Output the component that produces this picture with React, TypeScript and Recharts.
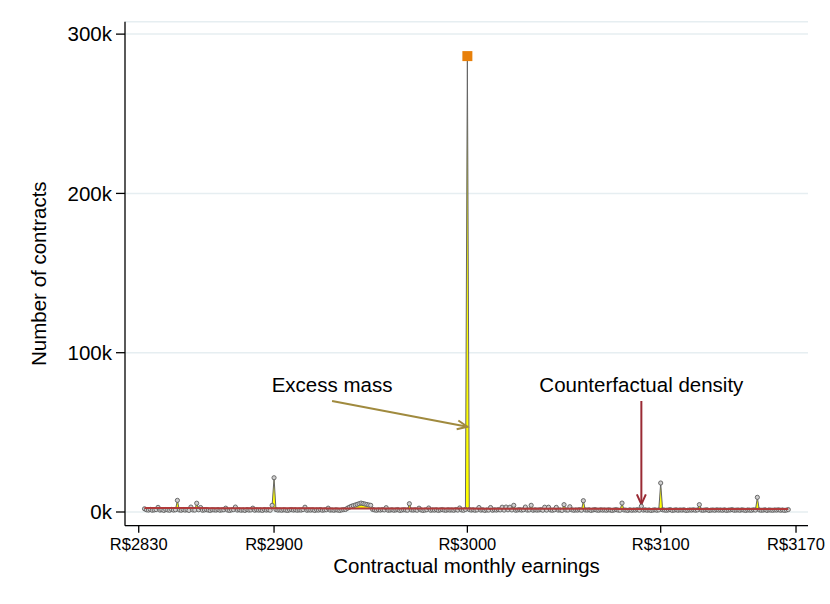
import React from "react";
import {
  ComposedChart,
  Line,
  Area,
  XAxis,
  YAxis,
  CartesianGrid,
  ReferenceLine,
  ReferenceDot,
  Label,
} from "recharts";

const FONT = "'Liberation Sans', Arial, Helvetica, sans-serif";

// contracts per R$1 of contractual earnings, in thousands
const firstEarning = 2833;

const counts2833to2899 = [
  2.0, 1.4, 1.2, 1.6, 1.1, 1.3, 1.5,
  2.9, 1.2, 1.4, 1.0, 1.5, 1.3, 1.1, 1.6, 1.2, 1.4,
  7.3, 1.3, 1.1, 1.5, 1.2, 1.4, 1.0, 3.1, 1.3, 1.2,
  5.5, 1.4, 2.8, 1.1, 1.3, 1.5, 1.2, 1.0, 1.4, 1.3,
  1.2, 1.5, 1.1, 1.3, 1.4, 2.4, 1.2, 1.0, 1.3, 1.5,
  3.1, 1.2, 1.4, 1.1, 1.3, 1.0, 1.5, 1.2, 1.3, 2.4,
  1.1, 1.4, 1.2, 1.3, 1.0, 1.5, 1.2, 1.4, 1.1, 4.2,
];

const counts2900to2999 = [
  21.5, 1.5, 1.2, 1.3, 1.1, 1.4, 1.2, 1.0, 1.3, 1.5,
  1.2, 1.4, 1.1, 1.3, 1.2, 1.5, 3.0, 1.1, 1.3, 1.2,
  1.4, 1.0, 1.3, 1.2, 1.5, 1.1, 1.3, 1.4, 2.4, 1.2,
  1.3, 1.1, 1.4, 1.2, 1.0, 1.3, 1.5, 1.6, 2.4, 3.0,
  3.6, 4.0, 4.4, 4.8, 5.2, 5.6, 5.3, 5.0, 4.7, 4.4,
  4.2, 1.6, 1.3, 1.1, 1.4, 1.2, 1.5, 1.3, 2.7, 1.1,
  1.2, 1.4, 1.1, 1.3, 1.5, 1.0, 1.2, 1.4, 1.3, 1.1,
  5.2, 1.3, 1.2, 1.4, 1.1, 2.4, 1.3, 1.0, 1.2, 1.4,
  2.5, 1.1, 1.3, 1.2, 1.4, 1.0, 1.3, 1.5, 1.2, 1.1,
  1.4, 1.2, 1.3, 1.1, 1.5, 1.2, 2.5, 1.3, 1.1, 1.6,
];

const counts3000to3099 = [
  286.2, 1.5, 1.2, 1.4, 1.1, 1.3, 2.8, 1.2, 1.4, 1.0,
  1.3, 1.2, 2.8, 1.1, 1.4, 1.2, 1.5, 1.3, 3.0, 1.2,
  3.1, 1.4, 3.0, 1.3, 4.2, 1.1, 1.3, 1.5, 1.2, 1.4,
  3.1, 1.2, 1.3, 4.2, 1.1, 1.4, 1.2, 1.3, 1.5, 1.1,
  3.0, 1.2, 3.0, 1.3, 1.1, 1.4, 2.9, 1.2, 1.3, 1.0,
  4.6, 1.3, 1.2, 3.3, 1.4, 1.1, 1.3, 1.2, 1.5, 1.1,
  7.1, 1.3, 1.2, 1.4, 1.0, 1.3, 1.5, 1.2, 1.1, 1.4,
  1.2, 1.3, 1.1, 1.4, 1.2, 1.0, 1.3, 1.5, 1.2, 1.1,
  5.6, 1.3, 1.2, 1.0, 1.4, 1.1, 1.3, 1.2, 1.5, 1.1,
  3.6, 1.2, 1.4, 1.1, 1.3, 1.0, 1.2, 1.4, 1.1, 1.3,
];

const counts3100to3166 = [
  18.2, 1.4, 1.2, 1.1, 1.3, 1.5, 1.0, 1.2, 1.4, 1.1,
  1.3, 1.2, 1.4, 1.0, 1.1, 1.3, 1.2, 1.4, 1.1, 1.3,
  4.6, 1.2, 1.1, 1.3, 1.4, 1.0, 1.2, 1.3, 1.1, 1.4,
  1.2, 1.3, 1.1, 1.4, 1.0, 1.2, 1.3, 1.5, 1.1, 1.2,
  1.3, 1.1, 1.4, 1.2, 1.0, 1.3, 1.2, 1.1, 1.4, 1.2,
  9.2, 1.3, 1.1, 1.2, 1.4, 1.0, 1.3, 1.2, 1.1, 1.3,
  1.2, 1.4, 1.1, 1.3, 1.0, 1.2, 1.5,
];

// counterfactual density (thousands)
const cfEarnings = [
  2833, 2840, 2850, 2860, 2870, 2880, 2890, 2900, 2910, 2920, 2930, 2940,
  2950, 2960, 2970, 2980, 2990, 3000, 3010, 3020, 3030, 3040, 3050, 3060,
  3070, 3080, 3090, 3100, 3110, 3120, 3130, 3140, 3150, 3160, 3166,
];
const cfCounts = [
  2.5, 2.48, 2.46, 2.44, 2.41, 2.39, 2.36, 2.34, 2.31, 2.29, 2.27, 2.24,
  2.22, 2.2, 2.18, 2.16, 2.14, 2.12, 2.1, 2.08, 2.06, 2.04, 2.02, 2.0,
  1.98, 1.96, 1.95, 1.93, 1.92, 1.9, 1.89, 1.88, 1.87, 1.86, 1.85,
];

const xTicks = [2830, 2900, 3000, 3100, 3170];
const yTicks = [0, 100, 200, 300];
const roundNumber = 3000;

const observed = [...counts2833to2899, ...counts2900to2999, ...counts3000to3099, ...counts3100to3166];

const cfStep = (e: number) => {
  let v = cfCounts[0];
  cfEarnings.forEach((x, i) => {
    if (x <= e) v = cfCounts[i];
  });
  return v;
};

const data = observed.map((obs, i) => {
  const earning = firstEarning + i;
  const j = cfEarnings.indexOf(earning);
  const base = cfStep(earning);
  return {
    earning,
    obs,
    cf: j >= 0 ? cfCounts[j] : undefined,
    excess: [base, Math.max(obs, base)],
  };
});

const arrow = (color: string) => (props: any) => {
  const { x1, y1, x2, y2 } = props;
  const ang = Math.atan2(y2 - y1, x2 - x1);
  const len = 11;
  const spread = 0.42;
  const ax = x2 - len * Math.cos(ang - spread);
  const ay = y2 - len * Math.sin(ang - spread);
  const bx = x2 - len * Math.cos(ang + spread);
  const by = y2 - len * Math.sin(ang + spread);
  return (
    <g>
      <line x1={x1} y1={y1} x2={x2} y2={y2} stroke={color} strokeWidth={2} />
      <polyline points={`${ax},${ay} ${x2},${y2} ${bx},${by}`} fill="none" stroke={color} strokeWidth={2} />
    </g>
  );
};

const note = (text: string) => (props: any) => (
  <text x={props.cx} y={props.cy} textAnchor="middle" fontSize={20.5} fontFamily={FONT} fill="#000">
    {text}
  </text>
);

const renderDot = (props: any) => {
  const { cx, cy, payload, index } = props;
  if (payload.earning === roundNumber) {
    return <rect key={`d-${index}`} x={cx - 5} y={cy - 5} width={10} height={10} fill="#e8800a" />;
  }
  return <circle key={`d-${index}`} cx={cx} cy={cy} r={2.1} fill="#cfcfcf" stroke="#5c5c5c" strokeWidth={0.9} />;
};

const tickStyle = { fill: "#000", fontFamily: FONT };

export default function App() {
  return (
    <div style={{ position: "absolute", left: 0, top: 0, width: 830, height: 604, background: "#fff" }}>
      <ComposedChart width={830} height={604} data={data} margin={{ top: 21.7, right: 22, bottom: 0, left: 0 }}>
        <CartesianGrid vertical={false} stroke="#e6eef1" strokeWidth={1.5} />
        <XAxis
          type="number"
          dataKey="earning"
          domain={[2822.9, 3176.2]}
          ticks={xTicks}
          tickFormatter={(v) => `R$${v}`}
          height={78.3}
          tickSize={7}
          tickMargin={5.5}
          tick={{ ...tickStyle, fontSize: 16.5 }}
          axisLine={{ stroke: "#000", strokeWidth: 1.3 }}
          tickLine={{ stroke: "#000", strokeWidth: 1.3 }}
        >
          <Label
            content={({ viewBox }: any) => (
              <text
                x={viewBox.x + viewBox.width / 2}
                y={viewBox.y + 47.3}
                textAnchor="middle"
                fontSize={20.5}
                fontFamily={FONT}
                fill="#000"
              >
                Contractual monthly earnings
              </text>
            )}
          />
        </XAxis>
        <YAxis
          type="number"
          domain={[-8.6, 307.8]}
          ticks={yTicks}
          tickFormatter={(v) => `${v}k`}
          width={125}
          tickSize={9}
          tickMargin={4}
          tick={{ ...tickStyle, fontSize: 20.5 }}
          axisLine={{ stroke: "#000", strokeWidth: 1.3 }}
          tickLine={{ stroke: "#000", strokeWidth: 1.3 }}
        >
          <Label
            content={({ viewBox }: any) => {
              const cx = 46;
              const cy = viewBox.y + viewBox.height / 2;
              return (
                <text
                  x={cx}
                  y={cy}
                  transform={`rotate(-90, ${cx}, ${cy})`}
                  textAnchor="middle"
                  fontSize={20.5}
                  fontFamily={FONT}
                  fill="#000"
                >
                  Number of contracts
                </text>
              );
            }}
          />
        </YAxis>
        <Area
          type="linear"
          dataKey="excess"
          stroke="none"
          fill="#ffff00"
          fillOpacity={1}
          activeDot={false}
          isAnimationActive={false}
        />
        <Line
          type="linear"
          dataKey="obs"
          stroke="#666666"
          strokeWidth={1}
          dot={renderDot}
          activeDot={false}
          isAnimationActive={false}
        />
        <Line
          type="linear"
          dataKey="cf"
          stroke="#b03a3a"
          strokeWidth={2}
          dot={false}
          activeDot={false}
          connectNulls
          isAnimationActive={false}
          {...({ zIndex: 700 } as any)}
        />
        <ReferenceLine
          segment={[{ x: 2930, y: 69.7 }, { x: 3000, y: 53.5 }]}
          shape={arrow("#a08a3e")}
        />
        <ReferenceLine
          segment={[{ x: 3090, y: 69.7 }, { x: 3090, y: 4.8 }]}
          shape={arrow("#9a2a34")}
        />
        <ReferenceDot x={2930} y={75.5} r={1} shape={note("Excess mass")} />
        <ReferenceDot x={3090} y={75.5} r={1} shape={note("Counterfactual density")} />
      </ComposedChart>
    </div>
  );
}
